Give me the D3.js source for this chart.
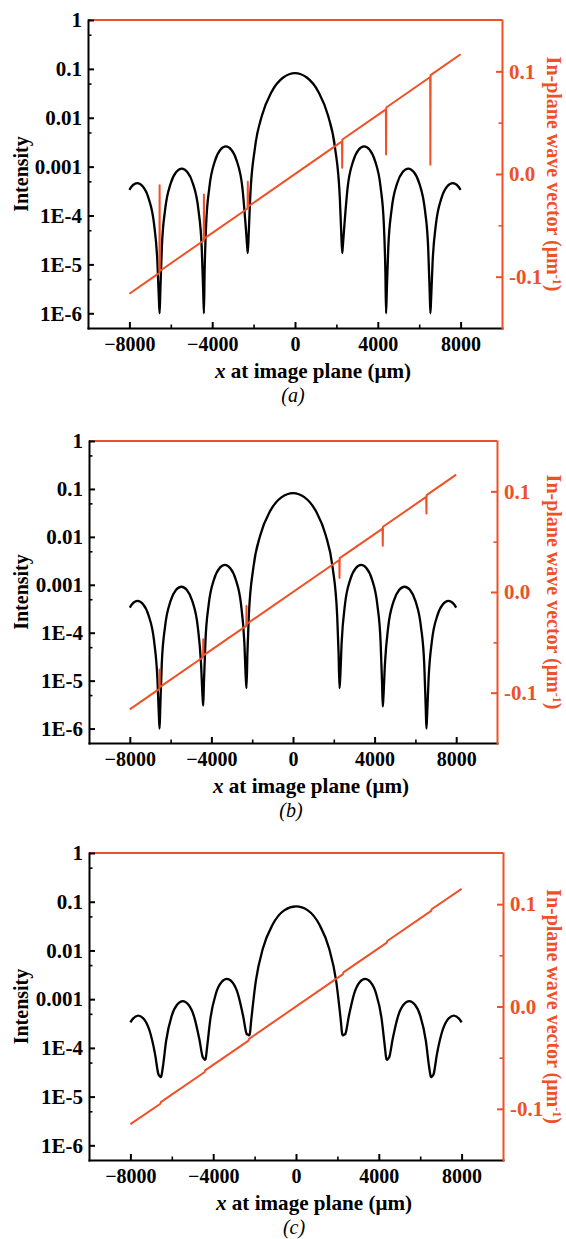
<!DOCTYPE html>
<html>
<head>
<meta charset="utf-8">
<script src="https://cdn.jsdelivr.net/npm/d3@7"></script>
<style>
  html, body { margin: 0; padding: 0; background: #fff; }
  svg { display: block; }
</style>
</head>
<body>
<svg id="chart" width="566" height="1239"></svg>
<script>
var xPts = [
  -8000, -7890, -7620, -7350, -7080, -6810, -6648, -6572, -6540, -6508,
  -6433, -6273, -6005, -5738, -5470, -5203, -4935, -4668, -4507, -4432,
  -4400, -4368, -4294, -4135, -3870, -3605, -3340, -3075, -2810, -2545,
  -2386, -2312, -2280, -2234, -2166, -1938, -1596, -1140, -570, 0,
  570, 1140, 1596, 1938, 2166, 2234, 2280, 2312, 2386, 2545,
  2810, 3075, 3340, 3605, 3870, 4135, 4294, 4368, 4400, 4432,
  4507, 4668, 4935, 5203, 5470, 5738, 6005, 6273, 6433, 6508,
  6540, 6572, 6648, 6810, 7080, 7350, 7620, 7890, 8000
];

var intensityA = [
  3.35e-4, 3.93e-4, 4.6e-4, 3.93e-4, 2.30e-4, 6.75e-5, 1.13e-5, 1.8e-6, 1.0e-6, 2.6e-6,
  2.23e-5, 1.33e-4, 4.55e-4, 7.76e-4, 9.1e-4, 7.76e-4, 4.55e-4, 1.33e-4, 2.23e-5, 2.6e-6,
  1.0e-6, 6.5e-6, 6.37e-5, 3.81e-4, 1.30e-3, 2.22e-3, 2.6e-3, 2.22e-3, 1.30e-3, 3.81e-4,
  6.37e-5, 2.4e-5, 1.7e-5, 4.5e-5, 2.26e-4, 2.37e-3, 1.11e-2, 3.33e-2, 6.65e-2, 8.2e-2,
  6.65e-2, 3.33e-2, 1.11e-2, 2.37e-3, 2.26e-4, 4.5e-5, 1.7e-5, 2.4e-5, 6.37e-5, 3.81e-4,
  1.30e-3, 2.22e-3, 2.6e-3, 2.22e-3, 1.30e-3, 3.81e-4, 6.37e-5, 6.5e-6, 1.0e-6, 2.6e-6,
  2.23e-5, 1.33e-4, 4.55e-4, 7.76e-4, 9.1e-4, 7.76e-4, 4.55e-4, 1.33e-4, 2.23e-5, 2.6e-6,
  1.0e-6, 1.8e-6, 1.13e-5, 6.75e-5, 2.30e-4, 3.93e-4, 4.6e-4, 3.93e-4, 3.35e-4
];

var intensityB = [
  3.35e-4, 3.93e-4, 4.6e-4, 3.93e-4, 2.30e-4, 6.75e-5, 1.13e-5, 1.8e-6, 1.0e-6, 2.6e-6,
  2.23e-5, 1.33e-4, 4.55e-4, 7.76e-4, 9.1e-4, 7.76e-4, 4.55e-4, 1.33e-4, 2.23e-5, 4.5e-6,
  3.0e-6, 8.5e-6, 6.37e-5, 3.81e-4, 1.30e-3, 2.22e-3, 2.6e-3, 2.22e-3, 1.30e-3, 3.81e-4,
  6.37e-5, 1.1e-5, 7.0e-6, 3.8e-5, 2.26e-4, 2.37e-3, 1.11e-2, 3.33e-2, 6.65e-2, 8.2e-2,
  6.65e-2, 3.33e-2, 1.11e-2, 2.37e-3, 2.26e-4, 3.8e-5, 7.0e-6, 1.1e-5, 6.37e-5, 3.81e-4,
  1.30e-3, 2.22e-3, 2.6e-3, 2.22e-3, 1.30e-3, 3.81e-4, 6.37e-5, 8.5e-6, 2.9e-6, 4.5e-6,
  2.23e-5, 1.33e-4, 4.55e-4, 7.76e-4, 9.1e-4, 7.76e-4, 4.55e-4, 1.33e-4, 2.23e-5, 2.6e-6,
  1.0e-6, 1.8e-6, 1.13e-5, 6.75e-5, 2.30e-4, 3.93e-4, 4.6e-4, 3.93e-4, 3.35e-4
];

var intensityC = [
  3.35e-4, 3.93e-4, 4.6e-4, 3.93e-4, 2.30e-4, 7.5e-5, 2.9e-5, 2.6e-5, 2.5e-5, 2.6e-5,
  4.0e-5, 1.4e-4, 4.55e-4, 7.76e-4, 9.1e-4, 7.76e-4, 4.55e-4, 1.5e-4, 6.5e-5, 5.9e-5,
  5.7e-5, 5.9e-5, 1.04e-4, 4.0e-4, 1.30e-3, 2.22e-3, 2.6e-3, 2.22e-3, 1.30e-3, 4.3e-4,
  1.95e-4, 1.85e-4, 1.8e-4, 1.9e-4, 3.6e-4, 2.4e-3, 1.11e-2, 3.33e-2, 6.65e-2, 8.0e-2,
  6.65e-2, 3.33e-2, 1.11e-2, 2.4e-3, 3.6e-4, 1.9e-4, 1.8e-4, 1.85e-4, 1.95e-4, 4.3e-4,
  1.30e-3, 2.22e-3, 2.6e-3, 2.22e-3, 1.30e-3, 4.0e-4, 1.04e-4, 5.9e-5, 5.7e-5, 5.9e-5,
  6.5e-5, 1.5e-4, 4.55e-4, 7.76e-4, 9.1e-4, 7.76e-4, 4.55e-4, 1.4e-4, 4.0e-5, 2.6e-5,
  2.5e-5, 2.6e-5, 2.9e-5, 7.5e-5, 2.30e-4, 3.93e-4, 4.6e-4, 3.93e-4, 3.35e-4
];

// in-plane wave vector (um^-1), with the spikes at the intensity zeros
var kXSpiked = [-8000, -6550, -6540, -6530, -4410, -4400, -4390, -2290, -2280, -2270,
  2270, 2280, 2290, 4390, 4400, 4410, 6530, 6540, 6550, 8000];
var kA = [-0.1166, -0.0963, -0.011, -0.0945, -0.0648, -0.020, -0.0630, -0.0336, -0.0075, -0.0318,
  0.0318, 0.006, 0.0336, 0.0630, 0.019, 0.0648, 0.0945, 0.009, 0.0963, 0.1166];
var kB = [-0.1166, -0.0963, -0.077, -0.0945, -0.0648, -0.047, -0.0630, -0.0336, -0.014, -0.0318,
  0.0318, 0.014, 0.0336, 0.0630, 0.046, 0.0648, 0.0945, 0.078, 0.0963, 0.1166];
var kXPlain = [-8000, -6550, -6530, -4410, -4390, -2290, -2270, 2270, 2290, 4390, 4410, 6530, 6550, 8000];
var kC = [-0.1150, -0.0950, -0.0934, -0.0640, -0.0624, -0.0333, -0.0317,
  0.0317, 0.0333, 0.0624, 0.0640, 0.0934, 0.0950, 0.1150];

var xTicks = [-8000, -4000, 0, 4000, 8000];
var xMinorTicks = [-6000, -2000, 2000, 6000];
var intensityTicks = [1, 0.1, 0.01, 0.001, 1e-4, 1e-5, 1e-6];
var intensityTickLabels = ['1', '0.1', '0.01', '0.001', '1E-4', '1E-5', '1E-6'];
var intensityMinorTicks = [0.5, 0.05, 0.005, 5e-4, 5e-5, 5e-6];
var kTicks = [-0.1, 0, 0.1];
var kTickLabels = ['-0.1', '0.0', '0.1'];
var kMinorTicks = [-0.05, 0.05];
var panelLabels = ['(a)', '(b)', '(c)'];

var ORANGE = '#ee5127';
var FONT = 'Liberation Serif, Times New Roman, serif';

var panels = [
  { left: 88, right: 502, top: 20, bottom: 328, xs: xPts, intensity: intensityA, kx: kXSpiked, k: kA },
  { left: 89, right: 497, top: 441, bottom: 743, xs: xPts, intensity: intensityB, kx: kXSpiked, k: kB },
  { left: 89, right: 503, top: 853, bottom: 1160, xs: xPts, intensity: intensityC, kx: kXPlain, k: kC }
];

var svg = d3.select('#chart');

function styleAxis(sel, color, fontSize, width) {
  sel.attr('font-family', FONT)
    .attr('font-weight', 'bold')
    .style('color', color);
  sel.selectAll('text')
    .style('font-size', fontSize + 'px')
    .style('font-family', FONT);
  sel.selectAll('line').attr('stroke-width', width);
  sel.selectAll('path.domain').attr('stroke-width', 2).attr('stroke-linecap', 'square');
}

function drawPanel(p, idx) {
  var g = svg.append('g').attr('class', 'panel-' + idx);

  var x = d3.scaleLinear().domain([-10000, 10000]).range([p.left, p.right]);
  var y = d3.scaleLog().domain([5e-7, 1]).range([p.bottom, p.top]);
  var yk = d3.scaleLinear().domain([-0.15, 0.15]).range([p.bottom, p.top]);

  // curves
  var intensityLine = d3.line()
    .x(function (d, i) { return x(p.xs[i]); })
    .y(function (d) { return y(d); })
    .curve(d3.curveMonotoneX);
  g.append('path')
    .datum(p.intensity)
    .attr('d', intensityLine)
    .attr('fill', 'none')
    .attr('stroke', '#000')
    .attr('stroke-width', 2.3)
    .attr('stroke-linejoin', 'round');

  var kLine = d3.line()
    .x(function (d, i) { return x(p.kx[i]); })
    .y(function (d) { return yk(d); });
  g.append('path')
    .datum(p.k)
    .attr('d', kLine)
    .attr('fill', 'none')
    .attr('stroke', ORANGE)
    .attr('stroke-width', 2)
    .attr('stroke-linejoin', 'round');

  // orange top edge
  g.append('line')
    .attr('x1', p.left).attr('x2', p.right)
    .attr('y1', p.top).attr('y2', p.top)
    .attr('stroke', ORANGE)
    .attr('stroke-width', 2);

  // left log axis
  var leftMinor = g.append('g')
    .attr('transform', 'translate(' + p.left + ',0)')
    .call(d3.axisLeft(y).tickValues(intensityMinorTicks).tickSize(-3.5).tickFormat(''));
  leftMinor.select('.domain').remove();
  styleAxis(leftMinor, '#000', 21, 1.6);

  var leftAxis = g.append('g')
    .attr('transform', 'translate(' + p.left + ',0)')
    .call(d3.axisLeft(y)
      .tickValues(intensityTicks)
      .tickSizeInner(-6)
      .tickSizeOuter(0)
      .tickPadding(6)
      .tickFormat(function (d, i) { return intensityTickLabels[i]; }));
  styleAxis(leftAxis, '#000', 21, 2);

  // bottom axis
  var bottomMinor = g.append('g')
    .attr('transform', 'translate(0,' + p.bottom + ')')
    .call(d3.axisBottom(x).tickValues(xMinorTicks).tickSize(-3.5).tickFormat(''));
  bottomMinor.select('.domain').remove();
  styleAxis(bottomMinor, '#000', 20, 1.6);

  var bottomAxis = g.append('g')
    .attr('transform', 'translate(0,' + p.bottom + ')')
    .call(d3.axisBottom(x)
      .tickValues(xTicks)
      .tickSizeInner(-6)
      .tickSizeOuter(0)
      .tickFormat(d3.format('d')));
  styleAxis(bottomAxis, '#000', 20, 2);
  bottomAxis.selectAll('.tick text').attr('y', 23).attr('dy', 0);

  // right axis (wave vector)
  var rightMinor = g.append('g')
    .attr('transform', 'translate(' + p.right + ',0)')
    .call(d3.axisRight(yk).tickValues(kMinorTicks).tickSize(-3.5).tickFormat(''));
  rightMinor.select('.domain').remove();
  styleAxis(rightMinor, ORANGE, 21, 1.6);

  var rightAxis = g.append('g')
    .attr('transform', 'translate(' + p.right + ',0)')
    .call(d3.axisRight(yk)
      .tickValues(kTicks)
      .tickSizeInner(-6)
      .tickSizeOuter(0)
      .tickPadding(7)
      .tickFormat(function (d, i) { return kTickLabels[i]; }));
  styleAxis(rightAxis, ORANGE, 21, 2);

  // axis titles
  var midY = (p.top + p.bottom) / 2;
  var midX = (p.left + p.right) / 2;

  g.append('text')
    .attr('transform', 'translate(28,' + midY + ') rotate(-90)')
    .attr('text-anchor', 'middle')
    .attr('font-family', FONT)
    .attr('font-size', 20)
    .attr('font-weight', 'bold')
    .text('Intensity');

  var rt = g.append('text')
    .attr('transform', 'translate(547,' + midY + ') rotate(90)')
    .attr('text-anchor', 'middle')
    .attr('font-family', FONT)
    .attr('font-size', 20)
    .attr('font-weight', 'bold')
    .attr('fill', ORANGE);
  rt.append('tspan').text('In-plane wave vector (μm');
  rt.append('tspan').attr('dy', -6).attr('font-size', 12).text('-1');
  rt.append('tspan').attr('dy', 6).text(')');

  var xt = g.append('text')
    .attr('x', midX + 18)
    .attr('y', p.bottom + 50)
    .attr('text-anchor', 'middle')
    .attr('font-family', FONT)
    .attr('font-size', 21)
    .attr('font-weight', 'bold')
    .attr('textLength', 196)
    .attr('lengthAdjust', 'spacingAndGlyphs');
  xt.append('tspan').attr('font-style', 'italic').text('x');
  xt.append('tspan').text(' at image plane (μm)');

  g.append('text')
    .attr('x', midX - 2)
    .attr('y', p.bottom + 74)
    .attr('text-anchor', 'middle')
    .attr('font-family', FONT)
    .attr('font-size', 20)
    .attr('font-style', 'italic')
    .text(panelLabels[idx]);
}

panels.forEach(drawPanel);
</script>
</body>
</html>
